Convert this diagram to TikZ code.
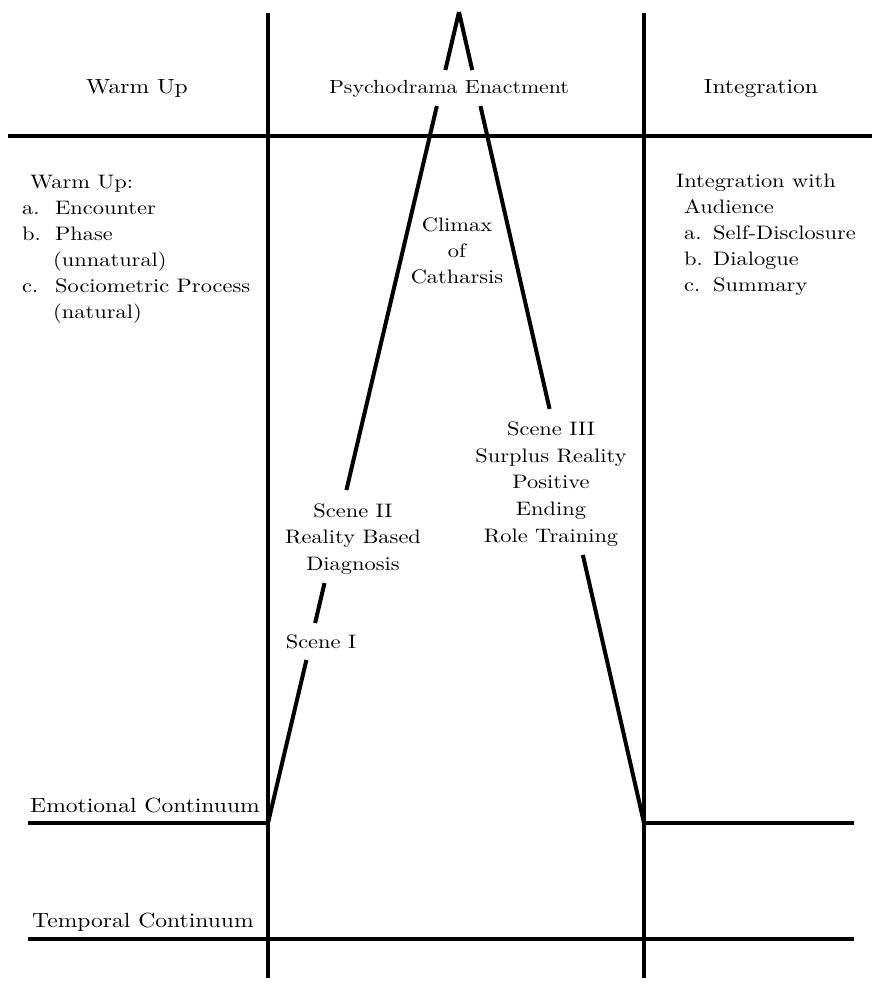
\documentclass[tikz,border=0pt]{standalone}
\usepackage{fontspec}
\setmainfont{lmroman10-regular.otf}[FakeStretch=1.15]
\usetikzlibrary{calc}
\tikzset{
  heavy/.style={line width=4pt, line cap=butt},
  txt/.style={inner sep=0pt, font=\fontsize{19.5}{26}\selectfont, anchor=base},
  txtl/.style={txt, anchor=base west},
  head/.style={inner sep=0pt, font=\fontsize{20.5}{26}\selectfont, anchor=base},
  cont/.style={inner sep=0pt, font=\fontsize{20.5}{26}\selectfont, anchor=base west}
}
\begin{document}
\begin{tikzpicture}[x=1pt,y=-1pt]
\useasboundingbox (0,0) rectangle (872,982);
% key points
\coordinate (apex) at (459,12);
\coordinate (LB) at (268,823);
\coordinate (RB) at (644,823);
\coordinate (VLt) at (268,13);
\coordinate (VLb) at (268,978);
\coordinate (VRt) at (644,13);
\coordinate (VRb) at (644,978);
\coordinate (Hl) at (8,136);
\coordinate (Hr) at (872,136);
\coordinate (EL) at (28,823);
\coordinate (ER) at (854,823);
\coordinate (TL) at (28,939);
\coordinate (TR) at (854,939);
% frame lines
\draw[heavy] (VLt) -- (VLb);
\draw[heavy] (VRt) -- (VRb);
\draw[heavy] (Hl) -- (Hr);
\draw[heavy] (EL) -- (LB);
\draw[heavy] (RB) -- (ER);
\draw[heavy] (TL) -- (TR);
% left leg of the peak
\draw[heavy] (apex) -- ($(apex)!0.0715!(LB)$);
\draw[heavy] ($(apex)!0.1159!(LB)$) -- ($(apex)!0.5894!(LB)$);
\draw[heavy] ($(apex)!0.7041!(LB)$) -- ($(apex)!0.7534!(LB)$);
\draw[heavy] ($(apex)!0.7990!(LB)$) -- (LB);
% right leg of the peak
\draw[heavy] (apex) -- ($(apex)!0.0715!(RB)$);
\draw[heavy] ($(apex)!0.1159!(RB)$) -- ($(apex)!0.4895!(RB)$);
\draw[heavy] ($(apex)!0.6695!(RB)$) -- (RB);
% headers
\node[head] (h1) at (137,93) {Warm Up};
\node[head, font=\fontsize{19}{26}\selectfont] (h2) at (449,93) {Psychodrama Enactment};
\node[head] (h3) at (761,93) {Integration};
% left list
\node[txtl] (w0) at (30,188) {Warm Up:};
\node[txtl] (wa) at (22,214) {a.};
\node[txtl] (wat) at (55,214) {Encounter};
\node[txtl] (wb) at (22,240) {b.};
\node[txtl] (wbt) at (55,240) {Phase};
\node[txtl] (wbu) at (53,266) {(unnatural)};
\node[txtl] (wc) at (22,292) {c.};
\node[txtl] (wct) at (55,292) {Sociometric Process};
\node[txtl] (wcu) at (53,318) {(natural)};
% right list
\node[txtl] (i0) at (676,187) {Integration with};
\node[txtl] (i1) at (684,213) {Audience};
\node[txtl] (ia) at (684,239) {a.};
\node[txtl] (iat) at (713,239) {Self-Disclosure};
\node[txtl] (ib) at (684,265) {b.};
\node[txtl] (ibt) at (713,265) {Dialogue};
\node[txtl] (ic) at (684,291) {c.};
\node[txtl] (ict) at (713,291) {Summary};
% climax
\node[txt] (c1) at (457,231) {Climax};
\node[txt] (c2) at (457,257) {of};
\node[txt] (c3) at (457,283) {Catharsis};
% scene II
\node[txt] (s21) at (353,517) {Scene II};
\node[txt] (s22) at (353,543) {Reality Based};
\node[txt] (s23) at (353,570) {Diagnosis};
% scene I
\node[txt] (s1) at (321,648) {Scene I};
% scene III
\node[txt] (s31) at (551,435) {Scene III};
\node[txt] (s32) at (551,462) {Surplus Reality};
\node[txt] (s33) at (551,488) {Positive};
\node[txt] (s34) at (551,515) {Ending};
\node[txt] (s35) at (551,542) {Role Training};
% continua
\node[cont] (emo) at (30,812) {Emotional Continuum};
\node[cont] (tem) at (32,927) {Temporal Continuum};
\end{tikzpicture}
\end{document}
